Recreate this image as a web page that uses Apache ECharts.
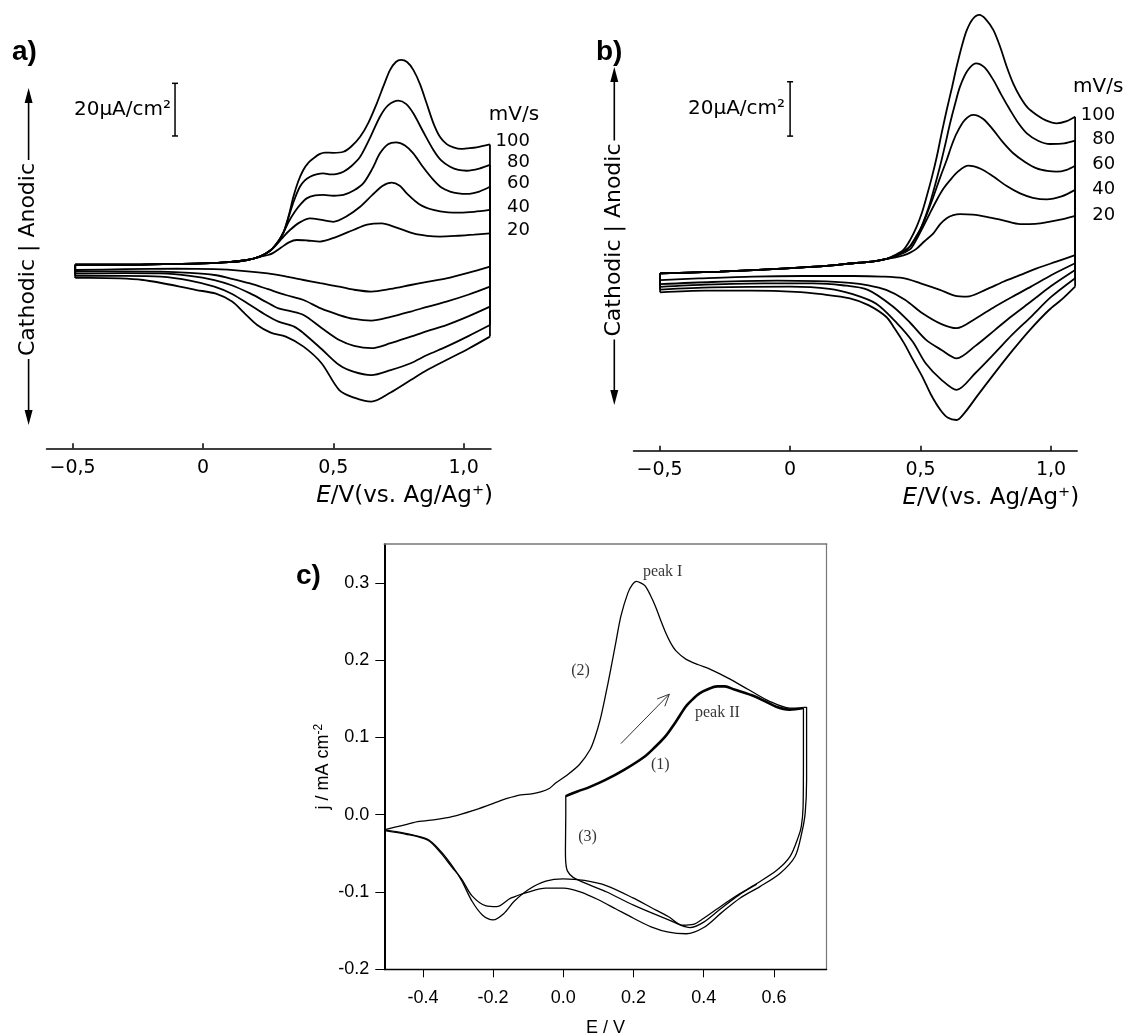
<!DOCTYPE html>
<html><head><meta charset="utf-8">
<script src="https://cdn.jsdelivr.net/npm/echarts@6/dist/echarts.min.js"></script>
<style>html,body{margin:0;padding:0;background:#fff}#chart{width:1128px;height:1034px}</style>
</head><body><div id="chart"></div>
<script>
// ---------------- DATA ----------------
const scanRates = [20, 40, 60, 80, 100];           // mV/s
const tickValuesAB = [-0.5, 0, 0.5, 1.0];
const tickLabelsAB = ['−0,5', '0', '0,5', '1,0'];
const cXTicks = [-0.4, -0.2, 0, 0.2, 0.4, 0.6];
const cXTickLabels = ['-0.4', '-0.2', '0.0', '0.2', '0.4', '0.6'];
const cYTicks = [-0.2, -0.1, 0, 0.1, 0.2, 0.3];
const cYTickLabels = ['-0.2', '-0.1', '0.0', '0.1', '0.2', '0.3'];

// Panel a: [E / V, j / µA cm^-2], forward (anodic) and reverse (cathodic) scans
const aAnodic20 = [[-0.49,2.0],[-0.3,2.0],[-0.1,2.3],[0.0,2.5],[0.1,3.0],[0.17,3.8],[0.22,5.0],[0.25,5.7],[0.27,6.5],[0.3,8.5],[0.33,10.5],[0.36,11.4],[0.4,11.2],[0.449,10.8],[0.51,12.5],[0.577,15.2],[0.63,17.2],[0.686,17.7],[0.74,16.2],[0.807,13.9],[0.86,13.0],[0.909,12.7],[0.98,13.0],[1.04,13.4],[1.101,13.9]];
const aAnodic40 = [[-0.49,2.0],[-0.3,2.0],[-0.1,2.3],[0.0,2.5],[0.1,3.0],[0.17,3.8],[0.22,5.2],[0.26,7.5],[0.29,10.5],[0.31,12.8],[0.334,15.2],[0.37,18.0],[0.411,19.6],[0.455,19.0],[0.5,18.3],[0.55,20.3],[0.603,24.0],[0.65,28.5],[0.69,32.0],[0.724,33.2],[0.755,32.0],[0.782,29.1],[0.83,25.0],[0.884,22.8],[0.94,21.9],[0.986,21.8],[1.04,22.1],[1.101,22.8]];
const aAnodic60 = [[-0.49,2.0],[-0.3,2.0],[-0.1,2.3],[0.0,2.5],[0.1,3.0],[0.17,3.8],[0.22,5.2],[0.26,7.5],[0.29,11.0],[0.31,14.5],[0.33,18.5],[0.353,22.2],[0.375,25.0],[0.398,27.2],[0.43,28.3],[0.462,28.5],[0.5,28.2],[0.539,28.5],[0.58,30.3],[0.615,32.9],[0.65,38.5],[0.679,44.3],[0.71,47.8],[0.741,48.5],[0.775,47.3],[0.807,44.3],[0.845,39.0],[0.884,34.2],[0.915,31.3],[0.948,29.8],[0.98,29.1],[1.012,28.9],[1.06,29.8],[1.101,31.6]];
const aAnodic80 = [[-0.49,2.0],[-0.3,2.0],[-0.1,2.3],[0.0,2.5],[0.1,3.0],[0.17,3.8],[0.22,5.2],[0.26,7.5],[0.29,11.0],[0.31,14.5],[0.33,20.5],[0.35,26.5],[0.372,31.6],[0.391,34.0],[0.411,35.4],[0.435,36.3],[0.462,36.7],[0.49,36.3],[0.515,36.5],[0.539,37.3],[0.57,39.5],[0.603,43.0],[0.64,50.0],[0.679,58.2],[0.71,62.5],[0.75,64.3],[0.78,63.0],[0.807,59.5],[0.845,52.5],[0.884,45.6],[0.915,41.5],[0.948,39.2],[0.98,38.0],[1.012,37.7],[1.06,38.5],[1.101,39.9]];
const aAnodic100 = [[-0.49,2.0],[-0.3,2.0],[-0.1,2.3],[0.0,2.5],[0.1,3.0],[0.17,3.8],[0.22,5.2],[0.26,7.5],[0.29,11.0],[0.31,14.5],[0.33,21.0],[0.347,27.8],[0.365,33.5],[0.385,38.0],[0.405,40.8],[0.424,42.4],[0.447,44.0],[0.468,44.6],[0.5,44.5],[0.539,44.9],[0.57,47.0],[0.603,50.6],[0.635,56.0],[0.667,63.3],[0.695,70.5],[0.718,76.0],[0.74,79.0],[0.76,79.8],[0.783,79.0],[0.807,76.0],[0.833,70.5],[0.858,63.3],[0.885,55.5],[0.909,50.6],[0.935,47.8],[0.961,46.6],[0.99,46.0],[1.012,46.2],[1.05,46.6],[1.101,47.7]];
const aCathodic20 = [[1.101,1.3],[1.02,-1.0],[0.934,-3.2],[0.86,-4.5],[0.797,-5.7],[0.72,-7.2],[0.646,-8.2],[0.58,-7.5],[0.523,-6.3],[0.45,-5.0],[0.386,-3.8],[0.32,-2.5],[0.249,-1.3],[0.15,-0.3],[0.044,0.3],[-0.1,0.5],[-0.3,0.3],[-0.49,0.0]];
const aCathodic40 = [[1.101,-6.3],[1.02,-9.3],[0.934,-12.0],[0.86,-14.0],[0.797,-15.8],[0.72,-17.8],[0.646,-19.2],[0.58,-18.6],[0.523,-17.1],[0.45,-14.5],[0.386,-11.4],[0.318,-9.5],[0.25,-7.3],[0.181,-5.1],[0.1,-3.1],[0.044,-1.9],[-0.05,-1.1],[-0.162,-0.6],[-0.3,-0.5],[-0.49,-0.6]];
const aCathodic60 = [[1.101,-13.9],[1.02,-17.5],[0.934,-20.9],[0.86,-23.2],[0.797,-25.3],[0.72,-27.8],[0.646,-29.7],[0.58,-28.8],[0.523,-26.6],[0.455,-22.0],[0.386,-17.1],[0.335,-15.6],[0.29,-14.6],[0.24,-12.0],[0.181,-8.9],[0.11,-5.8],[0.044,-3.8],[-0.05,-2.2],[-0.162,-1.3],[-0.3,-1.2],[-0.49,-1.4]];
const aCathodic80 = [[1.101,-20.9],[1.02,-25.0],[0.934,-29.1],[0.86,-32.3],[0.797,-35.4],[0.72,-38.0],[0.646,-39.9],[0.58,-38.7],[0.523,-36.1],[0.455,-30.0],[0.386,-24.0],[0.35,-21.5],[0.29,-19.6],[0.24,-17.0],[0.181,-13.3],[0.11,-9.0],[0.044,-6.3],[-0.05,-4.0],[-0.162,-2.5],[-0.3,-2.2],[-0.49,-2.2]];
const aCathodic100 = [[1.101,-25.3],[1.02,-29.8],[0.934,-34.2],[0.86,-38.0],[0.797,-41.8],[0.72,-46.5],[0.646,-50.0],[0.58,-48.5],[0.523,-45.6],[0.455,-35.4],[0.386,-29.1],[0.318,-25.3],[0.26,-23.8],[0.208,-20.9],[0.16,-16.5],[0.112,-12.0],[0.05,-9.0],[-0.025,-7.6],[-0.23,-3.8],[-0.436,-3.0],[-0.49,-3.0]];

// Panel b
const bAnodic20 = [[-0.498,3.2],[-0.269,3.8],[-0.013,5.0],[0.15,6.0],[0.242,6.9],[0.32,7.6],[0.37,8.5],[0.4,9.0],[0.434,9.8],[0.46,10.8],[0.485,12.3],[0.515,15.0],[0.549,17.9],[0.575,21.3],[0.6,23.5],[0.625,24.6],[0.651,25.0],[0.7,24.8],[0.753,24.0],[0.82,22.6],[0.881,21.3],[0.94,21.4],[0.996,22.2],[1.05,23.2],[1.092,24.3]];
const bAnodic40 = [[-0.498,3.2],[-0.269,3.8],[-0.013,5.0],[0.15,6.0],[0.242,6.9],[0.32,7.6],[0.37,8.5],[0.4,9.3],[0.459,12.0],[0.485,15.8],[0.51,20.4],[0.535,25.2],[0.562,30.2],[0.587,34.3],[0.613,37.5],[0.645,40.8],[0.683,42.8],[0.73,41.7],[0.779,38.8],[0.83,35.3],[0.881,32.6],[0.93,31.0],[0.983,30.4],[1.04,31.5],[1.092,33.9]];
const bAnodic60 = [[-0.498,3.2],[-0.269,3.8],[-0.013,5.0],[0.15,6.0],[0.242,6.9],[0.32,7.6],[0.37,8.5],[0.4,9.5],[0.459,13.0],[0.485,17.0],[0.51,21.6],[0.53,26.5],[0.549,31.4],[0.575,38.5],[0.6,44.9],[0.62,50.5],[0.638,54.7],[0.668,59.5],[0.702,61.5],[0.74,60.0],[0.779,55.9],[0.815,51.5],[0.855,47.4],[0.9,44.2],[0.945,41.8],[0.985,40.9],[1.021,40.6],[1.06,41.3],[1.092,42.8]];
const bAnodic80 = [[-0.498,3.2],[-0.269,3.8],[-0.013,5.0],[0.15,6.0],[0.242,6.9],[0.32,7.6],[0.37,8.5],[0.4,9.6],[0.447,11.8],[0.475,15.5],[0.498,19.1],[0.518,24.0],[0.536,29.0],[0.555,35.5],[0.574,42.4],[0.593,50.0],[0.613,58.4],[0.632,65.5],[0.651,71.9],[0.68,77.8],[0.712,80.5],[0.745,79.0],[0.779,74.3],[0.81,68.8],[0.843,63.3],[0.875,58.4],[0.907,54.7],[0.95,52.0],[0.996,50.8],[1.05,51.0],[1.092,52.0]];
const bAnodic100 = [[-0.498,3.2],[-0.269,3.8],[-0.013,5.0],[0.15,6.0],[0.242,6.9],[0.32,7.6],[0.37,8.5],[0.4,9.8],[0.434,11.8],[0.46,15.5],[0.485,20.4],[0.505,25.5],[0.523,31.4],[0.543,38.5],[0.562,46.1],[0.58,54.5],[0.6,63.3],[0.62,71.5],[0.638,79.2],[0.66,87.5],[0.677,92.7],[0.7,96.8],[0.725,98.3],[0.75,96.7],[0.779,92.7],[0.805,86.5],[0.83,79.2],[0.855,73.0],[0.881,68.2],[0.91,64.2],[0.945,61.5],[0.98,59.5],[1.021,58.4],[1.06,59.2],[1.092,60.8]];
const bCathodic20 = [[1.092,9.9],[1.02,7.5],[0.945,5.0],[0.88,2.5],[0.817,0.1],[0.75,-2.8],[0.677,-5.4],[0.63,-5.0],[0.574,-2.9],[0.5,-0.5],[0.434,1.4],[0.35,2.0],[0.242,2.2],[0.05,2.2],[-0.141,2.0],[-0.35,1.3],[-0.498,0.7]];
const bCathodic40 = [[1.092,6.9],[1.0,2.5],[0.923,-1.7],[0.85,-5.5],[0.784,-9.1],[0.71,-13.5],[0.638,-17.0],[0.58,-15.5],[0.507,-11.5],[0.44,-6.5],[0.368,-2.9],[0.3,-1.2],[0.229,-0.3],[0.1,0.3],[-0.049,0.5],[-0.3,0.0],[-0.498,-0.8]];
const bCathodic60 = [[1.092,4.4],[1.0,-1.5],[0.923,-7.2],[0.85,-12.5],[0.784,-17.7],[0.71,-23.5],[0.638,-28.1],[0.58,-25.0],[0.52,-21.2],[0.46,-15.0],[0.395,-9.1],[0.298,-2.9],[0.2,-1.2],[0.09,-0.5],[-0.1,-0.5],[-0.326,-1.0],[-0.498,-1.8]];
const bCathodic80 = [[1.092,1.4],[1.0,-5.5],[0.923,-12.8],[0.85,-19.5],[0.784,-26.2],[0.71,-33.5],[0.638,-39.7],[0.58,-36.0],[0.52,-30.0],[0.47,-22.0],[0.41,-15.2],[0.33,-8.0],[0.24,-4.5],[0.15,-2.5],[0.0,-1.7],[-0.3,-2.0],[-0.498,-2.8]];
const bCathodic100 = [[1.092,-1.7],[1.04,-6.5],[0.992,-10.3],[0.92,-17.5],[0.854,-25.0],[0.78,-34.0],[0.715,-42.2],[0.67,-48.0],[0.638,-50.8],[0.605,-50.0],[0.576,-47.1],[0.54,-41.5],[0.507,-34.9],[0.47,-28.5],[0.437,-22.6],[0.4,-17.0],[0.368,-12.8],[0.3,-8.5],[0.229,-6.0],[0.12,-4.5],[0.021,-3.6],[-0.15,-3.2],[-0.326,-3.2],[-0.498,-3.8]];

// Panel c: [E / V, j / mA cm^-2]
const cScan1 = [[0.007,0.024],[0.04,0.03],[0.076,0.036],[0.12,0.045],[0.173,0.058],[0.231,0.075],[0.26,0.087],[0.29,0.101],[0.32,0.12],[0.349,0.14],[0.37,0.15],[0.388,0.157],[0.41,0.162],[0.438,0.166],[0.46,0.166],[0.487,0.162],[0.546,0.153],[0.605,0.14],[0.645,0.136],[0.684,0.138]];
const cScan2 = [[-0.505,-0.019],[-0.46,-0.014],[-0.415,-0.009],[-0.36,-0.006],[-0.317,-0.0025],[-0.258,0.0053],[-0.199,0.0148],[-0.16,0.021],[-0.121,0.0256],[-0.09,0.027],[-0.062,0.03],[-0.04,0.034],[-0.022,0.041],[0.007,0.05],[0.046,0.065],[0.076,0.084],[0.09,0.1],[0.105,0.123],[0.12,0.154],[0.135,0.188],[0.15,0.224],[0.164,0.257],[0.184,0.287],[0.197,0.298],[0.208,0.302],[0.22,0.3],[0.233,0.296],[0.247,0.285],[0.262,0.27],[0.277,0.252],[0.292,0.235],[0.306,0.222],[0.321,0.212],[0.35,0.201],[0.385,0.194],[0.419,0.188],[0.468,0.177],[0.527,0.162],[0.586,0.147],[0.645,0.138],[0.684,0.138]];
const cReverseA = [[0.684,0.138],[0.684,0.07],[0.683,0.01],[0.678,-0.015],[0.67,-0.028],[0.646,-0.054],[0.608,-0.072],[0.551,-0.089],[0.503,-0.102],[0.45,-0.118],[0.4,-0.134],[0.37,-0.142],[0.34,-0.143],[0.3,-0.132],[0.25,-0.12],[0.2,-0.108],[0.124,-0.092],[0.06,-0.085],[0.0,-0.083],[-0.05,-0.086],[-0.1,-0.097],[-0.14,-0.112],[-0.17,-0.128],[-0.2,-0.136],[-0.23,-0.13],[-0.26,-0.112],[-0.29,-0.085],[-0.317,-0.066],[-0.35,-0.047],[-0.386,-0.032],[-0.45,-0.024],[-0.505,-0.02]];
const cReverseB = [[0.684,0.139],[0.693,0.139],[0.693,0.045],[0.689,0.002],[0.679,-0.024],[0.66,-0.054],[0.617,-0.076],[0.56,-0.093],[0.503,-0.108],[0.45,-0.127],[0.4,-0.146],[0.35,-0.154],[0.3,-0.152],[0.25,-0.145],[0.2,-0.134],[0.15,-0.122],[0.1,-0.11],[0.05,-0.1],[0.0,-0.095],[-0.05,-0.095],[-0.1,-0.1],[-0.15,-0.108],[-0.19,-0.119],[-0.22,-0.118],[-0.26,-0.105],[-0.29,-0.083],[-0.317,-0.068],[-0.35,-0.049],[-0.386,-0.033],[-0.45,-0.025],[-0.505,-0.021]];
const cScan3 = [[0.007,0.025],[0.007,0.0],[0.006,-0.045],[0.007,-0.062],[0.012,-0.073],[0.028,-0.081],[0.076,-0.091],[0.124,-0.1],[0.2,-0.117],[0.3,-0.136],[0.36,-0.146],[0.4,-0.139],[0.45,-0.121],[0.5,-0.104],[0.551,-0.09]];

// annotations (data coordinates)
const aScaleBar = [[-0.107, 50.9, 70.9]];   // 20 µA/cm² bar
const bScaleBar = [[0.0, 53.7, 73.7]];
const scaleBarText = '20μA/cm²';
const cArrow = [[0.164, 0.092, 0.302, 0.156]];
const cNoteText = ['peak I', 'peak II', '(1)', '(2)', '(3)'];
const cNoteAt = [[0.283, 0.314], [0.439, 0.132], [0.276, 0.065], [0.049, 0.186], [0.069, -0.029]];

// ---------------- CHART ----------------
const FAB = 'DejaVu Sans';
const FC = 'Liberation Sans';
const aAn = {20: aAnodic20, 40: aAnodic40, 60: aAnodic60, 80: aAnodic80, 100: aAnodic100};
const aCa = {20: aCathodic20, 40: aCathodic40, 60: aCathodic60, 80: aCathodic80, 100: aCathodic100};
const bAn = {20: bAnodic20, 40: bAnodic40, 60: bAnodic60, 80: bAnodic80, 100: bAnodic100};
const bCa = {20: bCathodic20, 40: bCathodic40, 60: bCathodic60, 80: bCathodic80, 100: bCathodic100};

function fmt(vals, labels) {
  return v => { const i = vals.findIndex(t => Math.abs(t - v) < 1e-9); return i >= 0 ? labels[i] : ''; };
}

// layout (pixels)
const A = {left: 46.5, width: 444.5, zero: 270, ppu: 2.633, axis: 448.3};
const B = {left: 633.5, width: 443.7, zero: 282, ppu: 2.717, axis: 450.7};

const lineBase = {type: 'line', showSymbol: false, symbol: 'none', clip: false, animation: false,
  lineStyle: {color: '#000', width: 1.8}, z: 3};

function cvSeries(gi, an, ca, labelOffset) {
  const out = [];
  scanRates.forEach(r => {
    const A1 = an[r], C1 = ca[r];
    out.push(Object.assign({}, lineBase, {xAxisIndex: gi, yAxisIndex: gi, smooth: 0.3, data: A1,
      endLabel: {show: true, formatter: '{r|' + r + '}', distance: 8, offset: labelOffset,
        rich: {r: {width: 32, align: 'right', fontSize: 18, fontFamily: FAB, color: '#000'}}}}));
    out.push(Object.assign({}, lineBase, {xAxisIndex: gi, yAxisIndex: gi, smooth: 0.3, data: C1}));
    out.push(Object.assign({}, lineBase, {xAxisIndex: gi, yAxisIndex: gi, data: [A1[A1.length - 1], C1[0]]}));
    out.push(Object.assign({}, lineBase, {xAxisIndex: gi, yAxisIndex: gi, data: [C1[C1.length - 1], A1[0]]}));
  });
  return out;
}

function scaleBar(gi, data, gap) {
  return {type: 'custom', xAxisIndex: gi, yAxisIndex: gi, data: data, encode: {x: 0, y: [1, 2]},
    animation: false, clip: false, z: 5,
    renderItem: (p, api) => {
      const p0 = api.coord([api.value(0), api.value(1)]);
      const p1 = api.coord([api.value(0), api.value(2)]);
      const st = {stroke: '#000', lineWidth: 1.5};
      return {type: 'group', children: [
        {type: 'line', shape: {x1: p0[0], y1: p0[1], x2: p1[0], y2: p1[1]}, style: st},
        {type: 'line', shape: {x1: p0[0] - 3, y1: p0[1], x2: p0[0] + 3, y2: p0[1]}, style: st},
        {type: 'line', shape: {x1: p1[0] - 3, y1: p1[1], x2: p1[0] + 3, y2: p1[1]}, style: st},
        {type: 'text', style: {text: scaleBarText, x: p0[0] - gap, y: (p0[1] + p1[1]) / 2,
          align: 'right', verticalAlign: 'middle', fontSize: 20, fontFamily: FAB, fill: '#000'}}
      ]};
    }};
}

function abXAxis(gi) {
  return {gridIndex: gi, type: 'value', min: -0.6, max: gi === 0 ? 1.105 : 1.1, position: 'bottom',
    axisLine: {show: true, onZero: false, lineStyle: {color: '#000', width: 1.5}},
    axisTick: {show: true, inside: true, length: 5, customValues: tickValuesAB, lineStyle: {color: '#000', width: 1.5}},
    axisLabel: {show: true, customValues: tickValuesAB, formatter: fmt(tickValuesAB, tickLabelsAB), margin: 10,
      fontSize: 19, fontFamily: FAB, color: '#000'},
    splitLine: {show: false},
    name: '{i|E}/V(vs. Ag/Ag⁺)', nameLocation: 'end', nameGap: 2,
    nameTextStyle: {align: 'right', verticalAlign: 'top', padding: [36, 0, 0, 0], fontSize: 23, fontFamily: FAB, color: '#000',
      rich: {i: {fontStyle: 'italic', fontSize: 23, fontFamily: FAB, color: '#000'}}}};
}

function sideArrow(x, top, bottom, cy) {
  const st = {fill: '#000'};
  return [
    {type: 'line', shape: {x1: x, y1: top + 8, x2: x, y2: bottom - 8}, style: {stroke: '#000', lineWidth: 1.6}},
    {type: 'polygon', shape: {points: [[x, top], [x - 4, top + 15], [x + 4, top + 15]]}, style: st},
    {type: 'polygon', shape: {points: [[x, bottom], [x - 4, bottom - 15], [x + 4, bottom - 15]]}, style: st},
    {type: 'text', x: x, y: cy, rotation: Math.PI / 2,
      style: {text: 'Cathodic | Anodic', align: 'center', verticalAlign: 'middle', fontSize: 22, fontFamily: FAB,
        fill: '#000', backgroundColor: '#fff', padding: [0, 3]}}
  ];
}

const cLine = {type: 'line', showSymbol: false, symbol: 'none', clip: false, animation: false, smooth: 0.3,
  xAxisIndex: 2, yAxisIndex: 2, lineStyle: {color: '#000', width: 1.3}, z: 3};

const option = {
  backgroundColor: '#fff',
  animation: false,
  grid: [
    {left: A.left, width: A.width, top: 0, height: A.axis, outerBoundsMode: 'none', containLabel: false},
    {left: B.left, width: B.width, top: 0, height: B.axis, outerBoundsMode: 'none', containLabel: false},
    {left: 384.3, width: 442.3, top: 544.2, height: 425.1, outerBoundsMode: 'none', containLabel: false}
  ],
  xAxis: [
    abXAxis(0), abXAxis(1),
    {gridIndex: 2, type: 'value', min: -0.51, max: 0.75, position: 'bottom',
      axisLine: {show: true, onZero: false, lineStyle: {color: '#000', width: 1.3}},
      axisTick: {show: true, length: 8, customValues: cXTicks, lineStyle: {color: '#000', width: 1}},
      axisLabel: {customValues: cXTicks, formatter: fmt(cXTicks, cXTickLabels), margin: 20, fontSize: 18, fontFamily: FC, color: '#000'},
      splitLine: {show: false},
      name: 'E / V', nameLocation: 'middle', nameGap: 50, nameTextStyle: {fontSize: 18, fontFamily: FC, color: '#000'}},
    {gridIndex: 2, type: 'value', min: -0.51, max: 0.75, position: 'top',
      axisLine: {show: true, onZero: false, lineStyle: {color: '#777', width: 1.5}},
      axisTick: {show: false}, axisLabel: {show: false}, splitLine: {show: false}}
  ],
  yAxis: [
    {gridIndex: 0, type: 'value', min: -(A.axis - A.zero) / A.ppu, max: A.zero / A.ppu, show: false},
    {gridIndex: 1, type: 'value', min: -(B.axis - B.zero) / B.ppu, max: B.zero / B.ppu, show: false},
    {gridIndex: 2, type: 'value', min: -0.2, max: 0.35, position: 'left',
      axisLine: {show: true, onZero: false, lineStyle: {color: '#000', width: 2}},
      axisTick: {show: true, length: 9, customValues: cYTicks, lineStyle: {color: '#000', width: 1}},
      axisLabel: {customValues: cYTicks, formatter: fmt(cYTicks, cYTickLabels), margin: 15, fontSize: 18, fontFamily: FC, color: '#000'},
      splitLine: {show: false},
      name: 'j / mA cm{sup|-2}', nameLocation: 'middle', nameGap: 50,
      nameTextStyle: {fontSize: 18, fontFamily: FC, color: '#000', lineHeight: 22, padding: [0, 20, 0, 0],
        rich: {sup: {fontSize: 12, fontFamily: FC, color: '#000', verticalAlign: 'top', lineHeight: 12}}}},
    {gridIndex: 2, type: 'value', min: -0.2, max: 0.35, position: 'right',
      axisLine: {show: true, onZero: false, lineStyle: {color: '#777', width: 1.2}},
      axisTick: {show: false}, axisLabel: {show: false}, splitLine: {show: false}}
  ],
  series: [].concat(
    cvSeries(0, aAn, aCa, [0, -3]),
    cvSeries(1, bAn, bCa, [0, -1]),
    [scaleBar(0, aScaleBar, 4), scaleBar(1, bScaleBar, 5)],
    [
      Object.assign({}, cLine, {data: cScan2}),
      Object.assign({}, cLine, {data: cReverseA}),
      Object.assign({}, cLine, {data: cReverseB}),
      Object.assign({}, cLine, {data: cScan3}),
      Object.assign({}, cLine, {data: cScan1, lineStyle: {color: '#000', width: 2.6}}),
      {type: 'custom', xAxisIndex: 2, yAxisIndex: 2, data: cArrow, encode: {x: [0, 2], y: [1, 3]}, animation: false, z: 5,
        renderItem: (p, api) => {
          const p0 = api.coord([api.value(0), api.value(1)]);
          const p1 = api.coord([api.value(2), api.value(3)]);
          const ang = Math.atan2(p1[1] - p0[1], p1[0] - p0[0]);
          const L = 13, w = 0.42;
          const h1 = [p1[0] - L * Math.cos(ang - w), p1[1] - L * Math.sin(ang - w)];
          const h2 = [p1[0] - L * Math.cos(ang + w), p1[1] - L * Math.sin(ang + w)];
          const st = {stroke: '#333', lineWidth: 1, fill: null};
          return {type: 'group', children: [
            {type: 'line', shape: {x1: p0[0], y1: p0[1], x2: p1[0], y2: p1[1]}, style: st},
            {type: 'polyline', shape: {points: [h1, p1, h2]}, style: st}
          ]};
        }},
      {type: 'scatter', xAxisIndex: 2, yAxisIndex: 2, symbolSize: 0, animation: false, z: 6,
        data: cNoteAt.map((v, i) => ({value: v, name: cNoteText[i]})),
        label: {show: true, position: 'inside', formatter: p => p.name, fontSize: 16, fontFamily: 'Liberation Serif', color: '#000'}}
    ]
  ),
  graphic: [].concat(
    [
      {type: 'text', x: 12, y: 52, style: {text: 'a)', fontSize: 28, fontWeight: 'bold', fontFamily: FC, fill: '#000', verticalAlign: 'middle'}},
      {type: 'text', x: 596, y: 52, style: {text: 'b)', fontSize: 28, fontWeight: 'bold', fontFamily: FC, fill: '#000', verticalAlign: 'middle'}},
      {type: 'text', x: 296, y: 576, style: {text: 'c)', fontSize: 28, fontWeight: 'bold', fontFamily: FC, fill: '#000', verticalAlign: 'middle'}},
      {type: 'text', x: 514, y: 115, style: {text: 'mV/s', fontSize: 20, fontFamily: FAB, fill: '#000', align: 'center', verticalAlign: 'middle'}},
      {type: 'text', x: 1073, y: 87, style: {text: 'mV/s', fontSize: 20, fontFamily: FAB, fill: '#000', align: 'left', verticalAlign: 'middle'}}
    ],
    sideArrow(28.6, 88, 425, 259.5),
    sideArrow(614.3, 67, 405, 240)
  )
};

const chart = echarts.init(document.getElementById('chart'), null, {renderer: 'canvas'});
chart.setOption(option);
</script></body></html>
